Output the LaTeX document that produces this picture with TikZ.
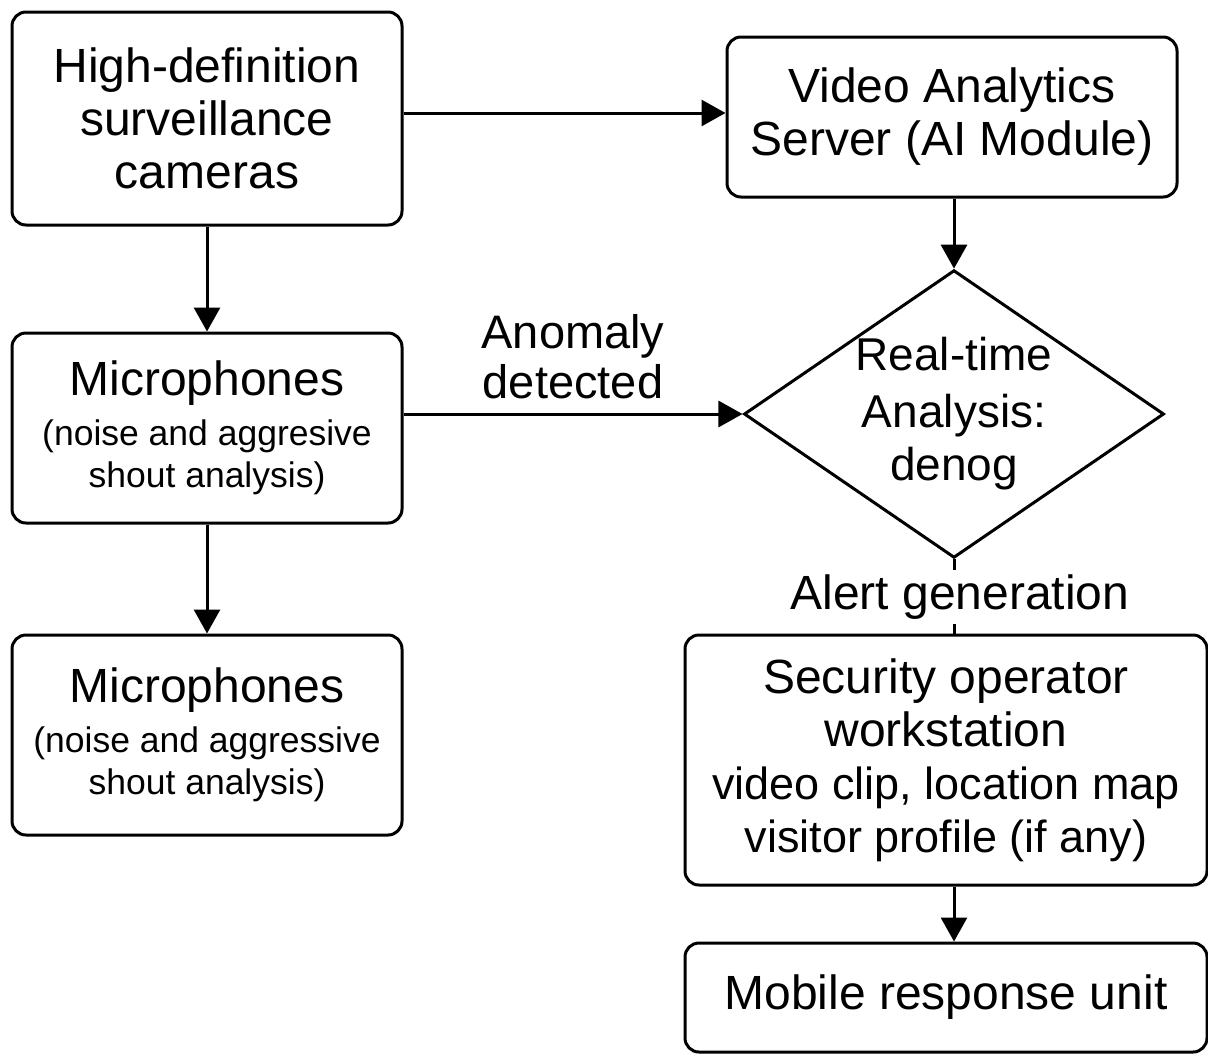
\documentclass[tikz,border=0pt]{standalone}
\usepackage{fontspec}
\setmainfont{Liberation Sans}
\usetikzlibrary{shapes.geometric,arrows.meta}

\newcommand{\bigtxt}{\fontsize{24}{26.5}\selectfont}
\newcommand{\smalltxt}{\fontsize{17.75}{21}\selectfont}

\tikzset{
  block/.style={draw, line width=1.5pt, rounded corners=7pt, align=center, inner sep=2pt, font=\bigtxt},
  micblock/.style={block, font=\smalltxt},
  decision/.style={draw, diamond, line width=1.5pt, aspect=1.46, inner sep=0pt, align=center,
    minimum width=206pt, minimum height=141pt, font=\fontsize{23}{26.5}\selectfont},
  flow/.style={line width=1.5pt, -{Triangle[length=12pt,width=13pt]}},
  link/.style={line width=1.5pt}
}

\begin{document}
\begin{tikzpicture}[x=0.5pt,y=-0.5pt]
  \useasboundingbox (0,0) rectangle (1208,1055);

  % left column
  \node[block, minimum width=195pt, minimum height=106.5pt] (cams) at (207,118.5)
    {High-definition\\surveillance\\cameras};
  \node[micblock, minimum width=195pt, minimum height=95pt] (mic1) at (207,428)
    {{\bigtxt Microphones}\\[4pt](noise and aggresive\\shout analysis)};
  \node[micblock, minimum width=195pt, minimum height=100pt] (mic2) at (207,735)
    {{\bigtxt Microphones}\\[4pt](noise and aggressive\\shout analysis)};

  % right column
  \node[block, minimum width=225pt, minimum height=80pt] (server) at (952,117)
    {Video Analytics\\Server (AI Module)};
  \node[decision] (analysis) at (954,414) {Real-time\\[2pt]Analysis:\\denog};
  \node[font=\bigtxt, inner sep=2pt] (alert) at (960,597) {Alert generation};
  \node[block, minimum width=261pt, minimum height=125pt] (operator) at (946,760)
    {Security operator\\workstation\\{\fontsize{22.5}{26.5}\selectfont video clip, location map}\\
     {\fontsize{22.5}{26.5}\selectfont visitor profile (if any)}};
  \node[block, minimum width=261pt, minimum height=54.5pt] (mobile) at (946,997.5)
    {Mobile response unit};

  % connectors
  \draw[flow] (cams.east |- 0,113) -- (server.west |- 0,113);
  \draw[flow] (cams) -- (mic1);
  \draw[flow] (mic1) -- (mic2);
  \draw[flow] (analysis.west -| mic1.east) -- (analysis.west)
    node[midway, above, inner sep=7pt, align=center, font=\fontsize{23.5}{25}\selectfont] (anomaly) {Anomaly\\detected};
  \draw[flow] (server.south -| analysis.north) -- (analysis.north);
  \draw[link] (analysis.south) -- (analysis.south |- alert.north);
  \draw[link] (analysis.south |- alert.south) -- (analysis.south |- operator.north);
  \draw[flow] (analysis.south |- operator.south) -- (analysis.south |- mobile.north);
\end{tikzpicture}
\end{document}
